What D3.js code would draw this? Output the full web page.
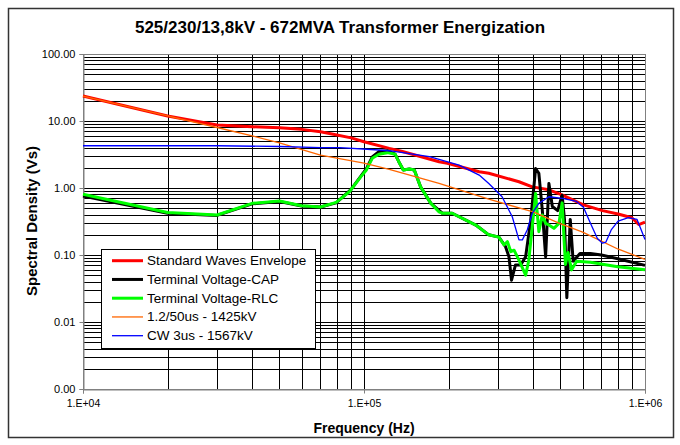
<!DOCTYPE html>
<html>
<head>
<meta charset="utf-8">
<script src="https://cdn.jsdelivr.net/npm/d3@7"></script>
<style>
    body { margin: 0; background: #fff; }
    svg { display: block; font-family: "Liberation Sans", Arial, sans-serif; }
</style>
</head>
<body>
<div id="chart"></div>
<script>
const chartTitle = "525/230/13,8kV - 672MVA Transformer Energization";
const xTitle = "Frequency (Hz)";
const yTitle = "Spectral Density (Vs)";

const xTickValues = [1e4, 1e5, 1e6];
const yTickValues = [0.001, 0.01, 0.1, 1, 10, 100];

const seriesNames = [
    "Standard Waves Envelope",
    "Terminal Voltage-CAP",
    "Terminal Voltage-RLC",
    "1.2/50us - 1425kV",
    "CW 3us - 1567kV",
];

// [frequency Hz, spectral density Vs]
const envelope = [
    [1e4, 23.6], [2e4, 11.9], [3e4, 8.7], [4e4, 8.2], [5e4, 7.9], [6e4, 7.5],
    [7e4, 6.9], [7.85e4, 6.3], [9e4, 5.6], [1e5, 4.9], [1.23e5, 3.9], [1.37e5, 3.5],
    [1.85e5, 2.47], [1.98e5, 2.34], [2.57e5, 1.75], [2.78e5, 1.66], [3.56e5, 1.24],
    [3.97e5, 1.04], [4.55e5, 0.94], [5.09e5, 0.78], [6.04e5, 0.56], [7.06e5, 0.46],
    [8.02e5, 0.41], [8.98e5, 0.36], [9.5e5, 0.285], [1e6, 0.31],
];

const capVoltage = [
    [1e4, 0.76], [2e4, 0.42], [3e4, 0.39], [4e4, 0.58], [5e4, 0.63], [6e4, 0.54],
    [7e4, 0.52], [7.96e4, 0.6], [9e4, 0.95], [9.75e4, 1.51], [1.02e5, 1.95],
    [1.07e5, 2.9], [1.13e5, 3.5], [1.21e5, 3.6], [1.29e5, 3.2], [1.33e5, 2.47],
    [1.38e5, 1.86], [1.45e5, 1.92], [1.51e5, 1.86], [1.59e5, 1.04], [1.73e5, 0.59],
    [1.9e5, 0.42], [2.06e5, 0.42], [2.5e5, 0.28], [2.78e5, 0.2], [3.02e5, 0.185],
    [3.19e5, 0.133], [3.28e5, 0.094], [3.35e5, 0.042], [3.46e5, 0.071], [3.61e5, 0.071],
    [3.76e5, 0.094], [3.92e5, 0.33], [4.08e5, 1.95], [4.19e5, 1.66], [4.31e5, 0.47],
    [4.43e5, 0.094], [4.55e5, 1.17], [4.68e5, 0.53], [4.89e5, 0.46], [5.07e5, 0.78],
    [5.17e5, 0.34], [5.27e5, 0.023], [5.42e5, 0.34], [5.55e5, 0.081], [5.87e5, 0.105],
    [6.39e5, 0.105], [7e5, 0.1], [8e5, 0.088], [1e6, 0.07],
];

const rlcVoltage = [
    [1e4, 0.805], [2e4, 0.43], [3e4, 0.395], [4e4, 0.59], [5e4, 0.64], [6e4, 0.545],
    [7e4, 0.52], [7.96e4, 0.61], [8.87e4, 0.88], [9.75e4, 1.48], [1.02e5, 1.86],
    [1.07e5, 2.77], [1.13e5, 3.2], [1.21e5, 3.37], [1.29e5, 3.2], [1.33e5, 2.47],
    [1.38e5, 1.86], [1.45e5, 1.92], [1.51e5, 1.86], [1.59e5, 1.04], [1.73e5, 0.59],
    [1.85e5, 0.44], [1.9e5, 0.42], [2.06e5, 0.42], [2.5e5, 0.28], [2.78e5, 0.2],
    [3.02e5, 0.185], [3.15e5, 0.141], [3.24e5, 0.158], [3.33e5, 0.112], [3.42e5, 0.118],
    [3.56e5, 0.084], [3.76e5, 0.05], [3.86e5, 0.084], [3.97e5, 0.264], [4.08e5, 0.83],
    [4.19e5, 0.223], [4.31e5, 0.395], [4.43e5, 0.297], [4.55e5, 0.28], [4.74e5, 0.25],
    [4.94e5, 0.297], [5.07e5, 0.6], [5.21e5, 0.072], [5.32e5, 0.109], [5.48e5, 0.06],
    [5.71e5, 0.081], [6.39e5, 0.078], [8e5, 0.067], [1e6, 0.06],
];

const lightningImpulse = [
    [1e4, 23.6], [2e4, 11.9], [3e4, 8.0], [4e4, 6.0], [5e4, 4.7], [7e4, 3.1],
    [1e5, 2.35], [1.23e5, 1.9], [1.85e5, 1.17], [2.78e5, 0.68], [4e5, 0.44],
    [4.94e5, 0.3], [6e5, 0.22], [6.85e5, 0.168], [8e5, 0.123], [1e6, 0.086],
];

const choppedWave = [
    [1e4, 4.27], [3e4, 4.27], [5e4, 4.16], [7e4, 4.0], [8.2e4, 4.0], [1.13e5, 3.69],
    [1.23e5, 3.6], [1.71e5, 2.93], [1.85e5, 2.68], [2.18e5, 2.2], [2.57e5, 1.56],
    [2.78e5, 1.17], [3.1e5, 0.74], [3.37e5, 0.373], [3.56e5, 0.168], [3.66e5, 0.168],
    [3.81e5, 0.236], [3.97e5, 0.42], [4.19e5, 0.59], [4.55e5, 0.74], [5.09e5, 0.7],
    [5.7e5, 0.63], [6.04e5, 0.515], [6.39e5, 0.3], [6.77e5, 0.176], [7.06e5, 0.15],
    [7.26e5, 0.156], [7.58e5, 0.237], [8.02e5, 0.32], [8.73e5, 0.36], [9.37e5, 0.34],
    [1e6, 0.17],
];

const seriesData = [envelope, capVoltage, rlcVoltage, lightningImpulse, choppedWave];
const seriesColors = ["#ff0000", "#000000", "#00ff00", "#ff6600", "#0000ff"];
const seriesWidths = [3, 3, 3, 1.3, 1.3];

const W = 680, H = 445;
const plot = { left: 83, right: 645, top: 54, bottom: 389 };

const svg = d3.select("#chart")
    .append("svg")
    .attr("width", W)
    .attr("height", H);

svg.append("rect")
    .attr("x", 8.5).attr("y", 8.5)
    .attr("width", 665).attr("height", 429)
    .attr("fill", "#fff")
    .attr("stroke", "#333")
    .attr("stroke-width", 1.5);

const x = d3.scaleLog().domain([1e4, 1e6]).range([plot.left, plot.right]);
const y = d3.scaleLog().domain([0.001, 100]).range([plot.bottom, plot.top]);

/* grid: every 1..9 of each decade, all black */
const xGrid = [];
for (let d = 4; d < 6; d++) for (let k = 1; k < 10; k++) xGrid.push(k * 10 ** d);
xGrid.push(1e6);
const yGrid = [];
for (let d = -3; d < 2; d++) for (let k = 1; k < 10; k++) yGrid.push(k * 10 ** d);
yGrid.push(100);

const gGrid = svg.append("g").attr("shape-rendering", "crispEdges");
gGrid.selectAll("line.h")
    .data(yGrid)
    .join("line")
    .attr("class", "h")
    .attr("x1", plot.left).attr("x2", plot.right)
    .attr("y1", (d) => Math.round(y(d)) + 0.5)
    .attr("y2", (d) => Math.round(y(d)) + 0.5)
    .attr("stroke", "#000");
gGrid.selectAll("line.v")
    .data(xGrid)
    .join("line")
    .attr("class", "v")
    .attr("y1", plot.top).attr("y2", plot.bottom)
    .attr("x1", (d) => Math.round(x(d)) + 0.5)
    .attr("x2", (d) => Math.round(x(d)) + 0.5)
    .attr("stroke", "#000");

svg.append("rect")
    .attr("x", plot.left + 0.5).attr("y", plot.top + 0.5)
    .attr("width", plot.right - plot.left).attr("height", plot.bottom - plot.top)
    .attr("fill", "none")
    .attr("stroke", "#808080")
    .attr("shape-rendering", "crispEdges");

/* axes */
const xAxis = d3.axisBottom(x)
    .tickValues(xTickValues)
    .tickSize(4)
    .tickPadding(6)
    .tickFormat((d) => "1.E+0" + Math.round(Math.log10(d)));
const yAxis = d3.axisLeft(y)
    .tickValues(yTickValues)
    .tickSize(4)
    .tickPadding(4)
    .tickFormat((d) => d.toFixed(2));

const gx = svg.append("g")
    .attr("transform", `translate(0,${plot.bottom + 0.5})`)
    .call(xAxis);
const gy = svg.append("g")
    .attr("transform", `translate(${plot.left + 0.5},0)`)
    .call(yAxis);

[gx, gy].forEach((g) => {
    g.select(".domain").attr("stroke", "#808080");
    g.selectAll(".tick line").attr("stroke", "#808080");
    g.selectAll("text")
        .attr("font-family", "Liberation Sans, Arial, sans-serif")
        .attr("fill", "#000");
});
gx.selectAll("text").attr("font-size", 10.5);
gy.selectAll("text").attr("font-size", 11);

/* series */
const line = d3.line()
    .x((d) => x(d[0]))
    .y((d) => y(d[1]));

svg.append("g")
    .selectAll("path")
    .data(seriesData)
    .join("path")
    .attr("d", line)
    .attr("fill", "none")
    .attr("stroke", (d, i) => seriesColors[i])
    .attr("stroke-width", (d, i) => seriesWidths[i])
    .attr("stroke-linejoin", "round");

/* titles */
svg.append("text")
    .attr("x", 340).attr("y", 33)
    .attr("text-anchor", "middle")
    .attr("font-size", 17)
    .attr("font-weight", "bold")
    .text(chartTitle);

svg.append("text")
    .attr("x", 364).attr("y", 433)
    .attr("text-anchor", "middle")
    .attr("font-size", 14)
    .attr("font-weight", "bold")
    .text(xTitle);

svg.append("text")
    .attr("transform", "translate(37,221) rotate(-90)")
    .attr("text-anchor", "middle")
    .attr("font-size", 15)
    .attr("font-weight", "bold")
    .text(yTitle);

/* legend */
const legend = svg.append("g");
legend.append("rect")
    .attr("x", 101.5).attr("y", 249.5)
    .attr("width", 214).attr("height", 99)
    .attr("fill", "#fff")
    .attr("stroke", "#000");

const rows = legend.selectAll("g.row")
    .data(seriesNames)
    .join("g")
    .attr("class", "row")
    .attr("transform", (d, i) => `translate(0,${260.7 + i * 18.75})`);

rows.append("line")
    .attr("x1", 112).attr("x2", 143)
    .attr("stroke", (d, i) => seriesColors[i])
    .attr("stroke-width", (d, i) => seriesWidths[i]);

rows.append("text")
    .attr("x", 147).attr("y", 4.5)
    .attr("font-size", 13.5)
    .text((d) => d);
</script>
</body>
</html>
